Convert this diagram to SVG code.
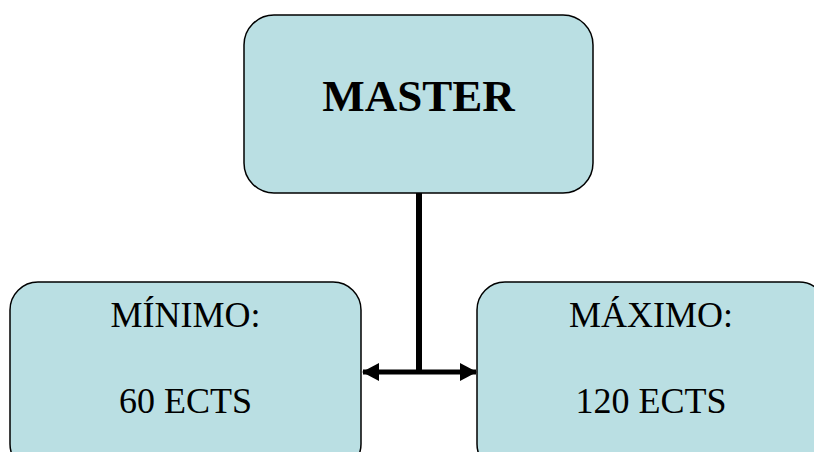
<svg xmlns="http://www.w3.org/2000/svg" width="814" height="452" viewBox="0 0 814 452">
<style>
.box{fill:#BADFE3;stroke:#000;stroke-width:1.5}
.t{font-family:"Liberation Serif","Times New Roman",serif;fill:#000;text-anchor:middle}
.conn{stroke:#000;fill:none}
</style>
<defs>
<marker id="ah" viewBox="0 0 18 18" refX="16" refY="9" markerWidth="18" markerHeight="18" markerUnits="userSpaceOnUse" orient="auto-start-reverse">
<path d="M0,0 L17,9 L0,18 Z" fill="#000"/>
</marker>
</defs>
<rect width="814" height="452" fill="#fff"/>
<g id="master">
<rect class="box" x="244" y="15" width="349" height="178" rx="30" ry="30"/>
<text class="t" x="418.5" y="111" font-size="45" font-weight="bold">MASTER</text>
</g>
<g id="minimo">
<rect class="box" x="10" y="282" width="351" height="190" rx="28" ry="28"/>
<text class="t" x="185.5" y="327" font-size="36">MÍNIMO:</text>
<text class="t" x="185.5" y="413" font-size="36">60 ECTS</text>
</g>
<g id="maximo">
<rect class="box" x="477" y="282" width="350" height="190" rx="28" ry="28"/>
<text class="t" x="651" y="327" font-size="36">MÁXIMO:</text>
<text class="t" x="651" y="413" font-size="36">120 ECTS</text>
</g>
<g id="connectors">
<line class="conn" x1="419" y1="193" x2="419" y2="372" stroke-width="6"/>
<line class="conn" x1="363" y1="372" x2="476" y2="372" stroke-width="5" marker-start="url(#ah)" marker-end="url(#ah)"/>
</g>
</svg>
